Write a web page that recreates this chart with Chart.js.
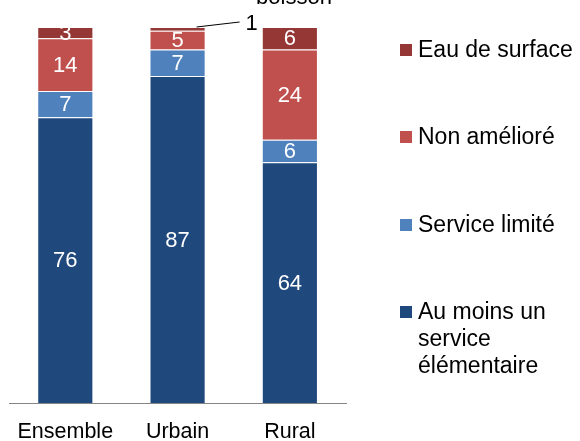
<!DOCTYPE html>
<html>
<head>
<meta charset="utf-8">
<script src="https://cdn.jsdelivr.net/npm/chart.js@4"></script>
<style>
  html, body { margin: 0; padding: 0; background: #fff; }
  #wrap { width: 580px; height: 441px; }
</style>
</head>
<body>
<div id="wrap"><canvas id="graphique" width="580" height="441"></canvas></div>
<script>
const milieux = ['Ensemble', 'Urbain', 'Rural'];
const serviceElementaire = [76, 87, 64];
const serviceLimite = [7, 7, 6];
const nonAmeliore = [14, 5, 24];
const eauSurface = [3, 1, 6];

const police = "'Liberation Sans', Arial, sans-serif";

// étiquettes de valeur dans les segments
const etiquettes = {
  id: 'etiquettes',
  afterDatasetsDraw(chart) {
    const ctx = chart.ctx;
    ctx.save();
    ctx.font = '22px ' + police;
    ctx.textAlign = 'center';
    ctx.textBaseline = 'middle';
    chart.data.datasets.forEach((ds, i) => {
      chart.getDatasetMeta(i).data.forEach((el, j) => {
        const v = ds.data[j];
        if (v < 2) {
          // petite valeur : sortie avec un trait
          ctx.strokeStyle = '#000';
          ctx.lineWidth = 1;
          ctx.beginPath();
          ctx.moveTo(el.x + 19, el.y);
          ctx.lineTo(el.x + 62, el.y - 5);
          ctx.stroke();
          ctx.fillStyle = '#000';
          ctx.fillText(v, el.x + 74, el.y - 3);
          return;
        }
        ctx.fillStyle = '#fff';
        ctx.fillText(v, el.x, (el.y + el.base) / 2 + 1);
      });
    });
    // reste du titre coupé en haut
    ctx.fillStyle = '#000';
    ctx.textBaseline = 'alphabetic';
    ctx.fillText('boisson', 294, 4);
    ctx.restore();
  }
};

// légende à droite, ordre inversé
const legende = {
  id: 'legende',
  afterDraw(chart) {
    const ctx = chart.ctx;
    const lignesY = [50, 137, 225, 312];
    ctx.save();
    ctx.font = '23px ' + police;
    ctx.textBaseline = 'middle';
    ctx.textAlign = 'left';
    const items = chart.data.datasets.slice().reverse();
    items.forEach((ds, k) => {
      const y = lignesY[k];
      ctx.fillStyle = ds.backgroundColor;
      ctx.fillRect(400, y - 6, 12, 12);
      ctx.fillStyle = '#000';
      const txt = Array.isArray(ds.label) ? ds.label : [ds.label];
      txt.forEach((t, n) => ctx.fillText(t, 418, y + 1 + n * 27));
    });
    ctx.restore();
  }
};

new Chart(document.getElementById('graphique'), {
  type: 'bar',
  data: {
    labels: milieux,
    datasets: [
      { label: ['Au moins un', 'service', 'élémentaire'], data: serviceElementaire, backgroundColor: '#1F497D' },
      { label: 'Service limité', data: serviceLimite, backgroundColor: '#4F81BD' },
      { label: 'Non amélioré', data: nonAmeliore, backgroundColor: '#C0504D' },
      { label: 'Eau de surface', data: eauSurface, backgroundColor: '#953735' }
    ].map(d => Object.assign(d, {
      borderColor: 'rgba(255,255,255,0.55)',
      borderWidth: 1,
      barPercentage: 1,
      categoryPercentage: 0.5
    }))
  },
  options: {
    responsive: false,
    animation: false,
    layout: { padding: { left: 9, right: 234, top: 27, bottom: 0 } },
    plugins: { legend: { display: false }, tooltip: { enabled: false } },
    scales: {
      x: {
        stacked: true,
        grid: { display: false, drawTicks: false },
        border: { display: true, color: '#868686', width: 1 },
        ticks: { color: '#000', font: { family: police, size: 21.5 }, padding: 16 },
        afterFit(scale) { scale.height = 38; }
      },
      y: { stacked: true, display: false, min: 0, max: 100 }
    }
  },
  plugins: [etiquettes, legende]
});
</script>
</body>
</html>
